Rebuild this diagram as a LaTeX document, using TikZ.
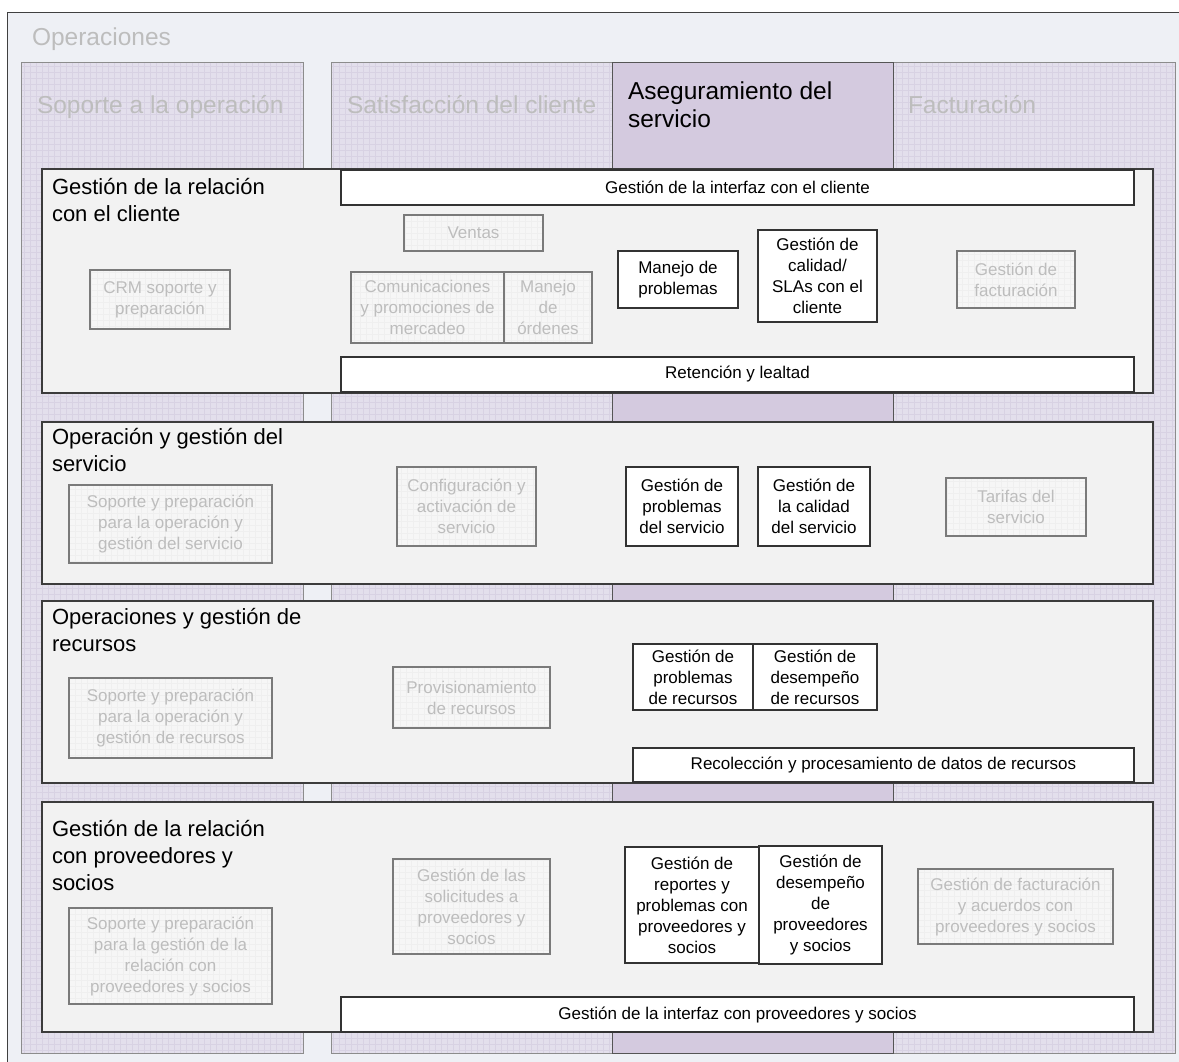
\documentclass[tikz,border=0pt]{standalone}
\usepackage{fontspec}
\setmainfont{Liberation Sans}

% palette
\definecolor{opsbg}{HTML}{EEF0F5}
\definecolor{opsedge}{HTML}{404040}
\definecolor{colfill}{HTML}{E3DFEC}
\definecolor{colline}{HTML}{D8D2E3}
\definecolor{coledge}{HTML}{8C8C8C}
\definecolor{asegfill}{HTML}{D4CADF}
\definecolor{asegedge}{HTML}{555555}
\definecolor{rowfill}{HTML}{F2F2F2}
\definecolor{rowedge}{HTML}{3C3C3C}
\definecolor{idlefill}{HTML}{F6F6F6}
\definecolor{idleline}{HTML}{EFEFEF}
\definecolor{idleedge}{HTML}{7A7A7A}
\definecolor{idletext}{HTML}{BDBDBD}
\definecolor{activeedge}{HTML}{333333}

% font sizes
\newcommand\fntbox{\fontsize{17}{21}\selectfont}
\newcommand\fnttitle{\fontsize{22}{27}\selectfont}
\newcommand\fntcol{\fontsize{24.5}{28}\selectfont}

% a box given by its corners: name, style, x1, y1, x2, y2, text
\newcommand\bx[7]{%
  \node[#2, minimum width={(#5-#3)*1pt}, minimum height={(#6-#4)*1pt}]
    (#1) at ({(#3+#5)/2},{(#4+#6)/2}) {#7};}
% stacked left-aligned lines whose baseline is the first line
\newcommand\stk[1]{\begin{tabular}[t]{@{}l@{}}#1\end{tabular}}

\tikzset{
  every node/.style={inner sep=0pt, outer sep=0pt},
  gridfill/.style={path picture={\draw[#1, line width=0.4pt, step=6pt]
      (path picture bounding box.south west) grid (path picture bounding box.north east);}},
  colbox/.style={draw=coledge, fill=colfill, line width=1pt, gridfill=colline},
  asegcol/.style={draw=asegedge, fill=asegfill, line width=1pt},
  rowbox/.style={draw=rowedge, fill=rowfill, line width=1.3pt},
  activebox/.style={draw=activeedge, fill=white, line width=1.3pt,
      font=\fntbox, align=center, text=black},
  idlebox/.style={draw=idleedge, fill=idlefill, line width=1.3pt,
      font=\fntbox, align=center, text=idletext, gridfill=idleline},
  coltitle/.style={font=\fntcol, text=idletext, anchor=base west},
  rowtitle/.style={font=\fnttitle, text=black, anchor=base west},
}

\begin{document}
\begin{tikzpicture}[x=1pt, y=-1pt]
\useasboundingbox (0,0) rectangle (1179,1062);
\fill[white] (0,0) rectangle (1179,1062);

% outer frame, running past the right and lower edges
\begin{scope}
  \clip (0,0) rectangle (1179,1062);
  \bx{ops}{draw=opsedge, fill=opsbg, line width=1pt}{7}{13}{1195}{1080}{}
\end{scope}
\node[coltitle] (opstitle) at (32,46) {Operaciones};

% vertical process groupings
\bx{colsop}{colbox}{21}{63}{303}{1053}{}
\bx{colsat}{colbox}{331}{63}{612}{1053}{}
\bx{colfac}{colbox}{893}{63}{1175}{1053}{}
\bx{colase}{asegcol}{612}{63}{893}{1053}{}
\node[coltitle] (tsop) at (37,114) {Soporte a la operación};
\node[coltitle] (tsat) at (347,114) {Satisfacción del cliente};
\node[coltitle] (tfac) at (908,114) {Facturación};
\node[coltitle, text=black] (tase) at (628,100) {\stk{Aseguramiento del\\servicio}};

% horizontal layers
\bx{rowcrm}{rowbox}{42}{169}{1153}{393}{}
\bx{rowsm}{rowbox}{42}{422}{1153}{584}{}
\bx{rowrm}{rowbox}{42}{601}{1153}{783}{}
\bx{rowsp}{rowbox}{42}{802}{1153}{1032}{}
\node[rowtitle] (tcrm) at (52,195) {\stk{Gestión de la relación\\con el cliente}};
\node[rowtitle] (tsm) at (52,444) {\stk{Operación y gestión del\\servicio}};
\node[rowtitle] (trm) at (52,624) {\stk{Operaciones y gestión de\\recursos}};
\node[rowtitle] (tsp) at (52,836) {\stk{Gestión de la relación\\con proveedores y\\socios}};

% customer relationship management
\bx{cif}{activebox}{341}{170}{1134}{205}{Gestión de la interfaz con el cliente}
\bx{ventas}{idlebox}{404}{215}{543}{251}{Ventas}
\bx{crmsup}{idlebox}{90}{270}{230}{329}{CRM soporte y\\preparación}
\bx{mkt}{idlebox}{351}{272}{504}{343}{Comunicaciones\\y promociones de\\mercadeo}
\bx{orders}{idlebox}{504}{272}{592}{343}{Manejo\\de\\órdenes}
\bx{probs}{activebox}{618}{251}{738}{308}{Manejo de\\problemas}
\bx{qos}{activebox}{758}{230}{877}{322}{Gestión de\\calidad/\\SLAs con el\\cliente}
\bx{billing}{idlebox}{957}{251}{1075}{308}{Gestión de\\facturación}
\bx{ret}{activebox}{341}{357}{1134}{392}{Retención y lealtad}

% service management
\bx{smsup}{idlebox}{69}{485}{272}{563}{Soporte y preparación\\para la operación y\\gestión del servicio}
\bx{cfg}{idlebox}{397}{467}{536}{546}{Configuración y\\activación de\\servicio}
\bx{sprob}{activebox}{626}{467}{738}{546}{Gestión de\\problemas\\del servicio}
\bx{squal}{activebox}{758}{467}{870}{546}{Gestión de\\la calidad\\del servicio}
\bx{rating}{idlebox}{946}{478}{1086}{536}{Tarifas del\\servicio}

% resource management
\bx{rmsup}{idlebox}{69}{678}{272}{758}{Soporte y preparación\\para la operación y\\gestión de recursos}
\bx{prov}{idlebox}{393}{667}{550}{728}{Provisionamiento\\de recursos}
\bx{rprob}{activebox}{633}{644}{753}{710}{Gestión de\\problemas\\de recursos}
\bx{rperf}{activebox}{753}{644}{877}{710}{Gestión de\\desempeño\\de recursos}
\bx{rdata}{activebox}{633}{748}{1134}{782}{Recolección y procesamiento de datos de recursos}

% supplier / partner management
\bx{spsup}{idlebox}{69}{908}{272}{1004}{Soporte y preparación\\para la gestión de la\\relación con\\proveedores y socios}
\bx{sreq}{idlebox}{393}{859}{550}{954}{Gestión de las\\solicitudes a\\proveedores y\\socios}
\bx{sprb}{activebox}{625}{847}{759}{963}{Gestión de\\reportes y\\problemas con\\proveedores y\\socios}
\bx{sperf}{activebox}{759}{846}{882}{964}{Gestión de\\desempeño\\de\\proveedores\\y socios}
\bx{sbill}{idlebox}{918}{869}{1113}{944}{Gestión de facturación\\y acuerdos con\\proveedores y socios}
\bx{spif}{activebox}{341}{997}{1134}{1032}{Gestión de la interfaz con proveedores y socios}
\end{tikzpicture}
\end{document}
